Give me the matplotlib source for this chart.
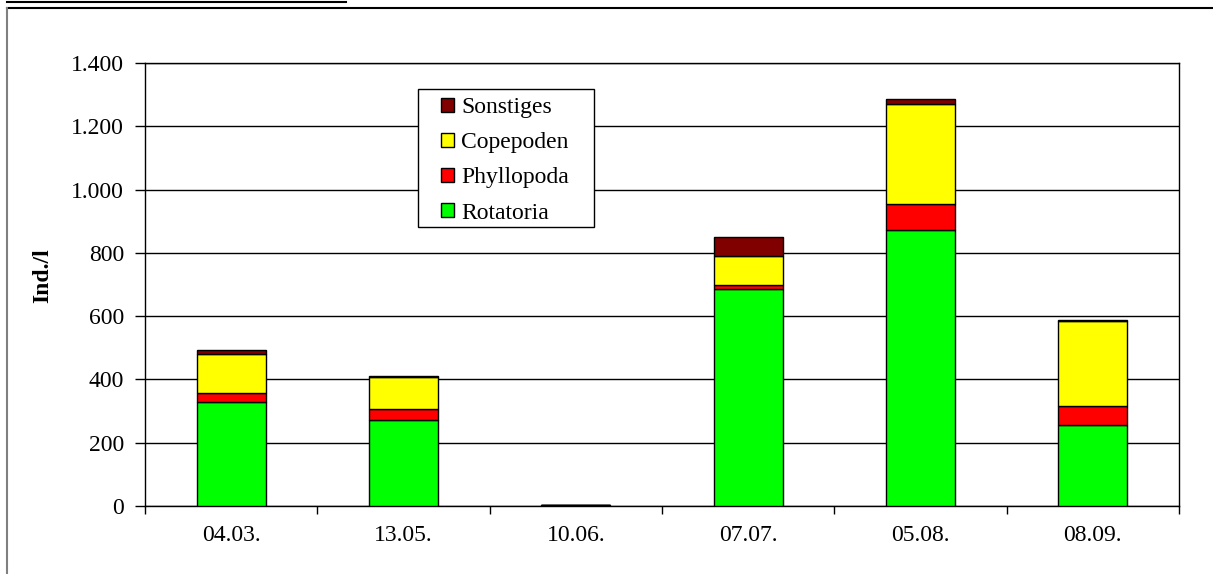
import matplotlib
matplotlib.use("Agg")
import matplotlib.pyplot as plt
from matplotlib.lines import Line2D
from matplotlib.patches import Rectangle
from matplotlib.ticker import FuncFormatter

dates = ["04.03.", "13.05.", "10.06.", "07.07.", "05.08.", "08.09."]
rotatoria = [330, 272, 3, 686, 871, 255]
phyllopoda = [28, 35, 0, 11, 82, 60]
copepoden = [122, 100, 0, 94, 318, 270]
sonstiges = [13, 5, 0, 60, 14, 2]

series = [("Rotatoria", rotatoria, "#00ff00"),
          ("Phyllopoda", phyllopoda, "#ff0000"),
          ("Copepoden", copepoden, "#ffff00"),
          ("Sonstiges", sonstiges, "#800000")]

plt.rcParams["font.family"] = ["Liberation Serif", "DejaVu Serif"]
fs = 17

W, H = 1213, 574
fig = plt.figure(figsize=(W / 100, H / 100), dpi=100)
ax = fig.add_axes([145 / W, 1 - 506 / H, (1179 - 145) / W, (506 - 63) / H])

x = [i + 0.5 for i in range(len(dates))]
bottom = [0] * len(dates)
for name, vals, col in series:
    ax.bar(x, vals, width=0.4, bottom=bottom, color=col, edgecolor="black",
           linewidth=1, label=name, zorder=3)
    bottom = [b + v for b, v in zip(bottom, vals)]

ax.set_xlim(0, 6)
ax.set_ylim(0, 1400)
ax.set_yticks(range(0, 1401, 200))
ax.yaxis.set_major_formatter(FuncFormatter(lambda v, p: f"{int(v):,}".replace(",", ".")))
ax.grid(axis="y", color="black", linewidth=1, zorder=0)
ax.set_axisbelow(True)

ax.set_xticks(range(7))
ax.set_xticklabels([])
ax.set_xticks(x, minor=True)
ax.set_xticklabels(dates, minor=True)
ax.tick_params(axis="x", which="major", direction="out", length=6, width=1)
ax.tick_params(axis="x", which="minor", length=0, pad=14, labelsize=fs)
ax.tick_params(axis="y", direction="out", length=7, width=1, labelsize=fs, pad=8)
for s in ax.spines.values():
    s.set_linewidth(1)
    s.set_color("black")

fig.text(43 / W, 1 - 276 / H, "Ind./l", rotation=90, fontsize=fs, fontweight="bold",
         ha="center", va="center")

# legend box drawn separately so the padding can match
fig.add_artist(Rectangle((418 / W, 1 - 227 / H), (594 - 418) / W, (227 - 89) / H,
                         transform=fig.transFigure, facecolor="white",
                         edgecolor="black", linewidth=1, zorder=4))
h, l = ax.get_legend_handles_labels()
leg = fig.legend(h[::-1], l[::-1], loc="upper left", bbox_to_anchor=(441 / W, 1 - 97 / H),
                 borderaxespad=0, frameon=False, borderpad=0,
                 fontsize=fs, handlelength=0.55, handleheight=0.55, handletextpad=0.3,
                 labelspacing=0.6)
leg.set_zorder(5)

# outer frame and header underline
fig.add_artist(Line2D([7 / W, 1], [1 - 8 / H, 1 - 8 / H], color="black", linewidth=1.5))
fig.add_artist(Line2D([7 / W, 7 / W], [0, 1 - 8 / H], color="#808080", linewidth=1.5))
fig.add_artist(Line2D([7 / W, 346 / W], [1 - 2 / H, 1 - 2 / H], color="black", linewidth=1.5))

fig.savefig("out.png", dpi=100)
